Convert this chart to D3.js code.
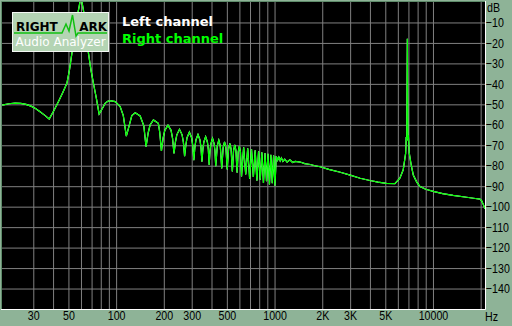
<!DOCTYPE html>
<html>
<head>
<meta charset="utf-8">
<script src="https://cdn.jsdelivr.net/npm/d3@7"></script>
<style>
    html, body { margin: 0; padding: 0; background: #8eb397; }
    svg { display: block; }
</style>
</head>
<body>
<script>
// spectrum: [frequency Hz, level dB]
const rightChannel = [
    [19.1, -50.4], [21, -49.7], [23, -49.4], [25, -49.5], [27, -50.0], [29, -50.9], [31, -52.0], [33.1, -53.6], [35.5, -55.4], [37.8, -57.2],
    [40.5, -53.0], [43.2, -48.7], [46, -44.3], [48.9, -39.7], [50.8, -33], [52.6, -25], [54.5, -16], [56.5, -8], [58.5, -2], [60, 3],
    [61.5, -2], [63.5, -8], [65.2, -16], [66.9, -25], [69.3, -33], [71.9, -39.7], [75, -47], [78.1, -54.7],
    [80.5, -53], [83.2, -51.1], [85.2, -49.5], [88.5, -48.5], [91.6, -48.2], [98.6, -48.7], [106, -51.1], [111, -55.5], [116, -65.5],
    [120.8, -60.5], [125.6, -55.5], [132, -54.1], [141.8, -55.7], [149.6, -60.5], [154.5, -70.7],
    [159.3, -64], [163.8, -60.1], [172, -57.6], [184.7, -59.3], [188.4, -63.5], [193.2, -72.8],
    [198, -66.5], [202.9, -62.7], [212.5, -60.2], [222.2, -62.7], [227, -66.5], [231.9, -74],
    [236.7, -68.5], [241.6, -64.9], [251.2, -62.2], [260.9, -64.9], [265.8, -68.5], [270.6, -75.3],
    [275.4, -70], [280.3, -66.3], [290, -63.6], [299.6, -66.3], [304.5, -70], [309.3, -77.3],
    [314.1, -71], [319, -67.4], [328.6, -64.7], [338.3, -67.4], [343.2, -71], [348, -78],
    [352.8, -72], [357.7, -68.5], [367.3, -65.8], [377, -68.5], [381.9, -72], [386.7, -79.6],
    [391.5, -72.8], [396.4, -69.3], [406, -66.6], [415.7, -69.3], [420.6, -72.8], [425.4, -80.2],
    [435.1, -70.3], [444.8, -67.5], [454.4, -70.3], [464.1, -81.3],
    [473.8, -71.1], [483.4, -68.3], [493.1, -71.1], [502.8, -81.8],
    [512.5, -71.9], [522.1, -69.1], [531.8, -71.9], [541.5, -82.8],
    [551.2, -72.6], [560.8, -69.8], [570.5, -72.6], [580.2, -83.4],
    [589.9, -73.2], [599.5, -70.4], [609.2, -73.2], [618.9, -85.2],
    [638.2, -71], [657.6, -84.3], [677, -71.5], [696.3, -86.3], [715.6, -72], [735, -85.5], [754.3, -72.5], [773.7, -87.3],
    [793, -73], [812.4, -86.8], [831.7, -73.4], [851.1, -88.4], [870.4, -73.8], [889.8, -87.6], [909.1, -74.2], [928.5, -89.2],
    [947.8, -74.6], [967.2, -88.6], [986.5, -75], [1005.9, -89.8],
    [1025, -75.3], [1045, -77.3], [1065, -75.8], [1085, -77.6], [1105, -76.2], [1130, -77.9], [1160, -76.8], [1200, -78.2],
    [1250, -77.1], [1300, -78.4], [1350, -77.9], [1450, -78.2], [1550, -79.0], [1680, -79.4], [1800, -80.0], [1940, -80.5],
    [2200, -81.8], [2600, -83.2], [3000, -84.6], [3470, -86.1], [4000, -87.2], [4500, -88.0], [5080, -88.6], [5750, -88.7],
    [6180, -86.1], [6490, -82], [6720, -74], [6780, -66], [6830, -68], [6890, -18], [6950, -67], [6990, -65], [7090, -74],
    [7300, -80], [7510, -84.5], [7900, -88], [8280, -90.2], [9000, -91.5], [10040, -92.5], [11500, -93.6], [13400, -94.5],
    [16300, -95.4], [18500, -96], [19800, -96.3], [20300, -97.2], [20800, -99], [21300, -101]
];
// left channel sits right under the right one
const leftChannel = rightChannel;

const gridFreqs = [30, 40, 50, 60, 70, 80, 90, 100, 200, 300, 400, 500, 600, 700, 800, 900,
    1000, 2000, 3000, 4000, 5000, 6000, 7000, 8000, 9000, 10000, 20000];
const xTickValues = [30, 50, 100, 200, 300, 500, 1000, 2000, 3000, 5000, 10000];
const xTickLabels = ["30", "50", "100", "200", "300", "500", "1000", "2K", "3K", "5K", "10000"];
const yTickValues = [-10, -20, -30, -40, -50, -60, -70, -80, -90, -100, -110, -120, -130, -140];
const legendNames = ["Left channel", "Right channel"];
const legendColors = ["#ffffff", "#00ff00"];

let width = 512, height = 326;
let plot_left = 2, plot_right = 485, plot_top = 2, plot_bottom = 309;
let axis_font = "'Liberation Sans', Arial, sans-serif";
let squeeze = "scale(0.82,1)";  // the original labels are a narrow bitmap font

let svg = d3.select("body").append("svg")
    .attr("width", width)
    .attr("height", height);

let x = d3.scaleLog().domain([19.04, 21300]).range([plot_left, plot_right]);
let y = d3.scaleLinear().domain([0, -150]).range([plot_top, plot_bottom]);

// plot background
svg.append("rect")
    .attr("x", plot_left).attr("y", plot_top)
    .attr("width", plot_right - plot_left).attr("height", plot_bottom - plot_top)
    .attr("fill", "#000");

// vertical grid
svg.append("g")
    .attr("transform", `translate(0,${plot_bottom})`)
    .call(d3.axisBottom(x).tickValues(gridFreqs).tickSize(-(plot_bottom - plot_top)).tickFormat(""))
    .call(g => g.select(".domain").remove())
    .selectAll("line").attr("stroke", "#808080");

// horizontal grid
svg.append("g")
    .attr("transform", `translate(${plot_left},0)`)
    .call(d3.axisRight(y).tickValues(yTickValues).tickSize(plot_right - plot_left).tickFormat(""))
    .call(g => g.select(".domain").remove())
    .selectAll("line").attr("stroke", "#808080");

svg.append("clipPath").attr("id", "plot-clip")
    .append("rect")
    .attr("x", plot_left).attr("y", plot_top)
    .attr("width", plot_right - plot_left).attr("height", plot_bottom - plot_top);

let line = d3.line()
    .x(d => x(d[0]))
    .y(d => y(d[1]));

let curves = svg.append("g").attr("clip-path", "url(#plot-clip)");
curves.append("path")
    .datum(leftChannel)
    .attr("d", line)
    .attr("fill", "none")
    .attr("stroke", legendColors[0])
    .attr("stroke-width", 1.2);
curves.append("path")
    .datum(rightChannel)
    .attr("d", line)
    .attr("fill", "none")
    .attr("stroke", legendColors[1])
    .attr("stroke-width", 1.2);

// sunken frame
svg.append("path")
    .attr("d", `M${plot_left - 0.5},${plot_bottom}V${plot_top - 0.5}H${plot_right}`)
    .attr("fill", "none").attr("stroke", "#5f8c6b");
svg.append("path")
    .attr("d", `M${plot_left - 1},${plot_bottom + 0.5}H${plot_right + 0.5}V${plot_top - 1}`)
    .attr("fill", "none").attr("stroke", "#ffffff");

// axis labels
let x_axis = svg.append("g")
    .attr("transform", `translate(0,${plot_bottom})`)
    .call(d3.axisBottom(x).tickValues(xTickValues).tickSize(0).tickFormat((d, i) => xTickLabels[i]));
x_axis.select(".domain").remove();
x_axis.selectAll("text")
    .attr("y", 11).attr("dy", 0)
    .attr("fill", "#000")
    .attr("transform", squeeze)
    .style("font-family", axis_font).style("font-size", "13px");

let y_axis = svg.append("g")
    .attr("transform", `translate(${plot_right},0)`)
    .call(d3.axisRight(y).tickValues(yTickValues).tickSize(0).tickPadding(1));
y_axis.select(".domain").remove();
y_axis.selectAll("text")
    .attr("fill", "#000")
    .attr("transform", squeeze)
    .style("font-family", axis_font).style("font-size", "13px");

svg.append("text").text("dB")
    .attr("transform", `translate(487,11.5) ${squeeze}`)
    .style("font-family", axis_font).style("font-size", "13px");
svg.append("text").text("Hz")
    .attr("transform", `translate(485,320.5) ${squeeze}`)
    .style("font-family", axis_font).style("font-size", "13px");

// logo
let logo = svg.append("g");
logo.append("rect")
    .attr("x", 12.5).attr("y", 12.5).attr("width", 96).attr("height", 39)
    .attr("fill", "#b4d4b4").attr("stroke", "#f4f8f4");
logo.append("path")
    .attr("d", d3.line()([[14, 33], [62, 33], [66, 24], [69, 31], [72.5, 15], [76, 36], [78, 33], [107, 33]]))
    .attr("fill", "none").attr("stroke", "#10c010").attr("stroke-width", 1.5);
logo.append("text").text("RIGHT")
    .attr("x", 16).attr("y", 31)
    .style("font-family", "'DejaVu Sans'").style("font-weight", "bold").style("font-size", "12px");
logo.append("text").text("ARK")
    .attr("x", 107).attr("y", 31).attr("text-anchor", "end")
    .style("font-family", "'DejaVu Sans'").style("font-weight", "bold").style("font-size", "12px");
logo.append("text").text("Audio Analyzer")
    .attr("x", 15.5).attr("y", 46)
    .attr("fill", "#ffffff")
    .style("font-family", "'DejaVu Sans'").style("font-size", "12px");

// legend
svg.selectAll(".legend")
    .data(legendNames)
    .enter()
    .append("text")
    .attr("class", "legend")
    .attr("x", 122)
    .attr("y", (d, i) => 26 + i * 17)
    .attr("fill", (d, i) => legendColors[i])
    .style("font-family", "'DejaVu Sans'").style("font-weight", "bold").style("font-size", "13px")
    .text(d => d);
</script>
</body>
</html>
